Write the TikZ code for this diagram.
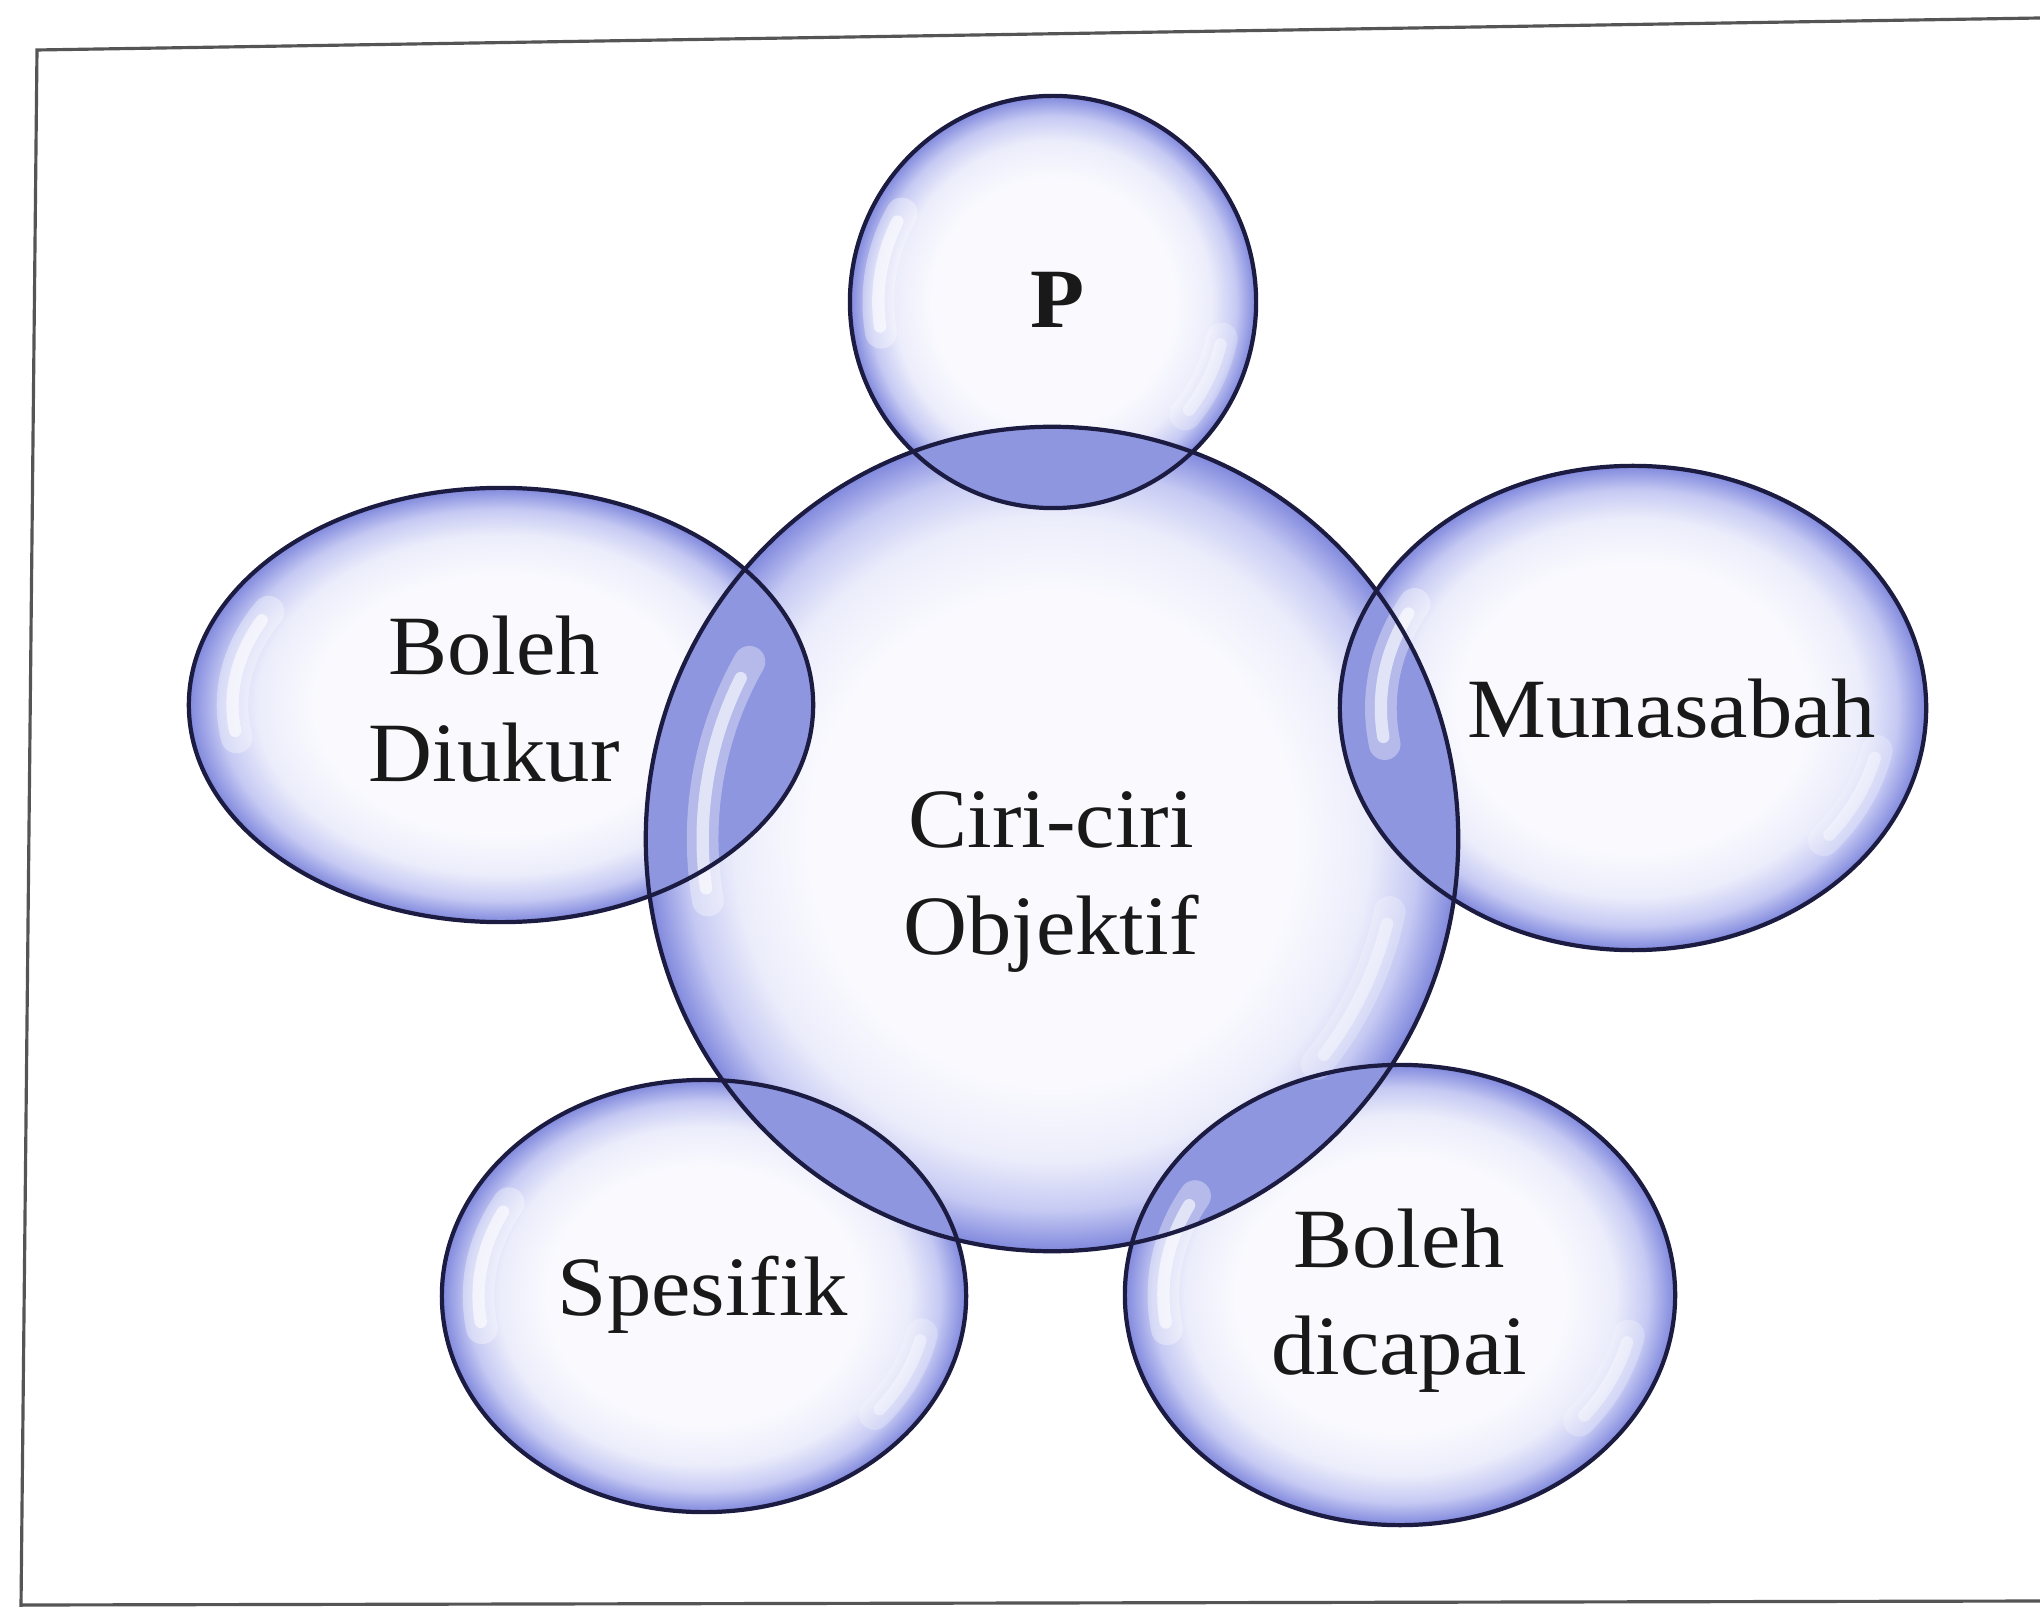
\documentclass[tikz,border=0pt]{standalone}
\usepackage{fontspec}
\setmainfont[FakeStretch=1.05]{Liberation Serif}
\definecolor{bwhite}{RGB}{249,249,254}
\definecolor{bsoft}{RGB}{236,237,251}
\definecolor{bmid}{RGB}{198,202,243}
\definecolor{bedge}{RGB}{128,136,221}
\definecolor{lenscol}{RGB}{142,150,224}
\definecolor{inkline}{RGB}{28,28,66}
\definecolor{framecol}{RGB}{85,85,85}
\pgfdeclareradialshading{bubble}{\pgfpoint{0bp}{0bp}}{color(0bp)=(bwhite); color(15bp)=(bwhite); color(19.5bp)=(bsoft); color(22.5bp)=(bmid); color(25bp)=(bedge); color(50bp)=(bedge)}
\tikzset{
  bubblefill/.style={shading=bubble},
  lens/.style={fill=lenscol},
  rim/.style={draw=inkline, line width=1.2pt},
  shinesoft/.style={draw=white, opacity=0.35, line width=9pt, line cap=round},
  shine/.style={draw=white, opacity=0.6, line width=3.5pt, line cap=round},
  txt/.style={font=\fontsize{24}{30.5}\selectfont, text=black!90, align=center, inner sep=0pt},
  frameline/.style={draw=framecol, line width=0.9pt}
}
\def\bP{(1053,302) ellipse [x radius=2.03cm, y radius=2.06cm]}
\def\bC{(1052,839) ellipse [x radius=4.06cm, y radius=4.12cm]}
\def\bL{(501,705) ellipse [x radius=3.12cm, y radius=2.17cm]}
\def\bR{(1633,708) ellipse [x radius=2.93cm, y radius=2.42cm]}
\def\bS{(704,1296) ellipse [x radius=2.62cm, y radius=2.16cm]}
\def\bD{(1400,1295) ellipse [x radius=2.75cm, y radius=2.30cm]}
\newcommand\shineleft[4]{%
  \begin{scope}[shift={(#1,#2)}, x=#3cm, y=#4cm]
    \draw[shinesoft] (190:0.86) arc[start angle=190, end angle=150, radius=0.86];
    \draw[shine] (188:0.86) arc[start angle=188, end angle=153, radius=0.86];
  \end{scope}}
\newcommand\shineright[4]{%
  \begin{scope}[shift={(#1,#2)}, x=#3cm, y=#4cm]
    \draw[shinesoft, opacity=0.25] (-12:0.85) arc[start angle=-12, end angle=-40, radius=0.85];
    \draw[shine, opacity=0.4] (-14:0.85) arc[start angle=-14, end angle=-38, radius=0.85];
  \end{scope}}
\begin{document}
\begin{tikzpicture}[x=0.01cm, y=-0.01cm]
\useasboundingbox (0,0) rectangle (2040,1607);
\fill[white] (0,0) rectangle (2040,1607);
% frame
\coordinate (ftr) at (2040,18);
\coordinate (ftl) at (37,50);
\coordinate (fbl) at (21,1607);
\coordinate (fbl2) at (21,1605);
\coordinate (fbr) at (2040,1601);
\draw[frameline] (ftr) -- (ftl) -- (fbl);
\draw[frameline] (fbl2) -- (fbr);
% bubbles
\shade[bubblefill] \bP;
\shade[bubblefill] \bL;
\shade[bubblefill] \bR;
\shade[bubblefill] \bS;
\shade[bubblefill] \bD;
\shade[bubblefill] \bC;
% overlaps
\begin{scope}
  \clip \bC;
  \fill[lens] \bP;
  \fill[lens] \bL;
  \fill[lens] \bR;
  \fill[lens] \bS;
  \fill[lens] \bD;
\end{scope}
% highlights
\shineleft{1053}{302}{2.03}{2.06}
\shineright{1053}{302}{2.03}{2.06}
\shineleft{1052}{839}{4.06}{4.12}
\shineright{1052}{839}{4.06}{4.12}
\shineleft{501}{705}{3.12}{2.17}
\shineleft{1633}{708}{2.93}{2.42}
\shineright{1633}{708}{2.93}{2.42}
\shineleft{704}{1296}{2.62}{2.16}
\shineright{704}{1296}{2.62}{2.16}
\shineleft{1400}{1295}{2.75}{2.30}
\shineright{1400}{1295}{2.75}{2.30}
% outlines
\draw[rim] \bP;
\draw[rim] \bC;
\draw[rim] \bL;
\draw[rim] \bR;
\draw[rim] \bS;
\draw[rim] \bD;
% texts
\node[txt] (tP) at (1058,300) {\bfseries P};
\node[txt] (tL) at (494,699) {Boleh\\Diukur};
\node[txt] (tR) at (1672,709) {Munasabah};
\node[txt] (tC) at (1051,882) {Ciri-ciri\\Objektif};
\node[txt] (tS) at (703,1295) {Spesifik};
\node[txt] (tD) at (1399,1301) {Boleh\\dicapai};
\end{tikzpicture}
\end{document}
